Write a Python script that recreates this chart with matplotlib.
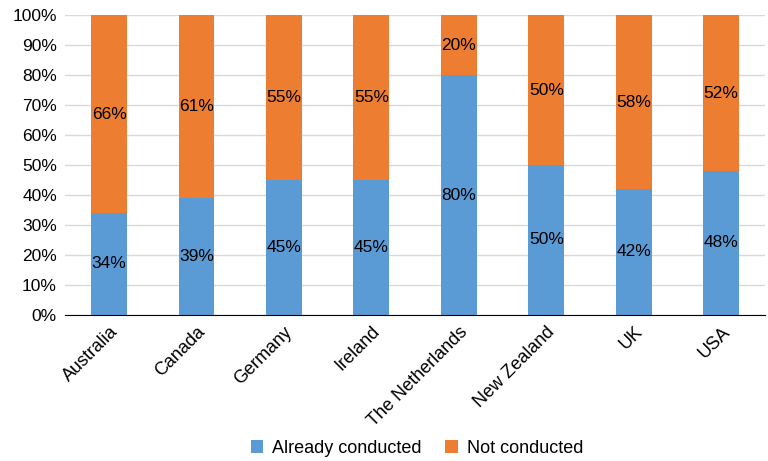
import numpy as np
import matplotlib.pyplot as plt

plt.rcParams['font.family'] = ['Liberation Sans', 'DejaVu Sans']

countries = ['Australia', 'Canada', 'Germany', 'Ireland', 'The Netherlands',
             'New Zealand', 'UK', 'USA']
conducted = [34, 39, 45, 45, 80, 50, 42, 48]
not_conducted = [66, 61, 55, 55, 20, 50, 58, 52]

blue = '#5b9bd5'
orange = '#ed7d31'

fig = plt.figure(figsize=(7.68, 4.61), dpi=100)
ax = fig.add_axes([0.085, 0.317, 0.911, 0.65])

x = np.arange(len(countries))
w = 0.41
b1 = ax.bar(x, conducted, w, color=blue, label='Already conducted', zorder=2)
b2 = ax.bar(x, not_conducted, w, bottom=conducted, color=orange,
            label='Not conducted', zorder=2)

for i in range(len(countries)):
    ax.text(x[i], conducted[i] / 2, f'{conducted[i]}%', ha='center',
            va='center', fontsize=12.5, zorder=3)
    ax.text(x[i], conducted[i] + not_conducted[i] / 2, f'{not_conducted[i]}%',
            ha='center', va='center', fontsize=12.5, zorder=3)

ax.set_ylim(0, 100)
ax.set_xlim(-0.5, len(countries) - 0.5)
ax.set_yticks(range(0, 101, 10))
ax.set_yticklabels([f'{v}%' for v in range(0, 101, 10)], fontsize=12.5)
ax.set_xticks(x)
ax.set_xticklabels(countries, rotation=45, ha='right', rotation_mode='anchor',
                   fontsize=13)
ax.tick_params(length=0, pad=6)
ax.yaxis.grid(True, color='#d9d9d9', linewidth=1, zorder=0)
for s in ['top', 'right', 'left']:
    ax.spines[s].set_visible(False)
ax.spines['bottom'].set_color('black')
ax.spines['bottom'].set_zorder(4)

fig.legend(handles=[b1, b2], loc='center', bbox_to_anchor=(0.543, 0.028),
           ncol=2, frameon=False, fontsize=13, handlelength=0.7,
           handleheight=0.7, columnspacing=1.3, handletextpad=0.5)

fig.savefig('out.png', dpi=100)
